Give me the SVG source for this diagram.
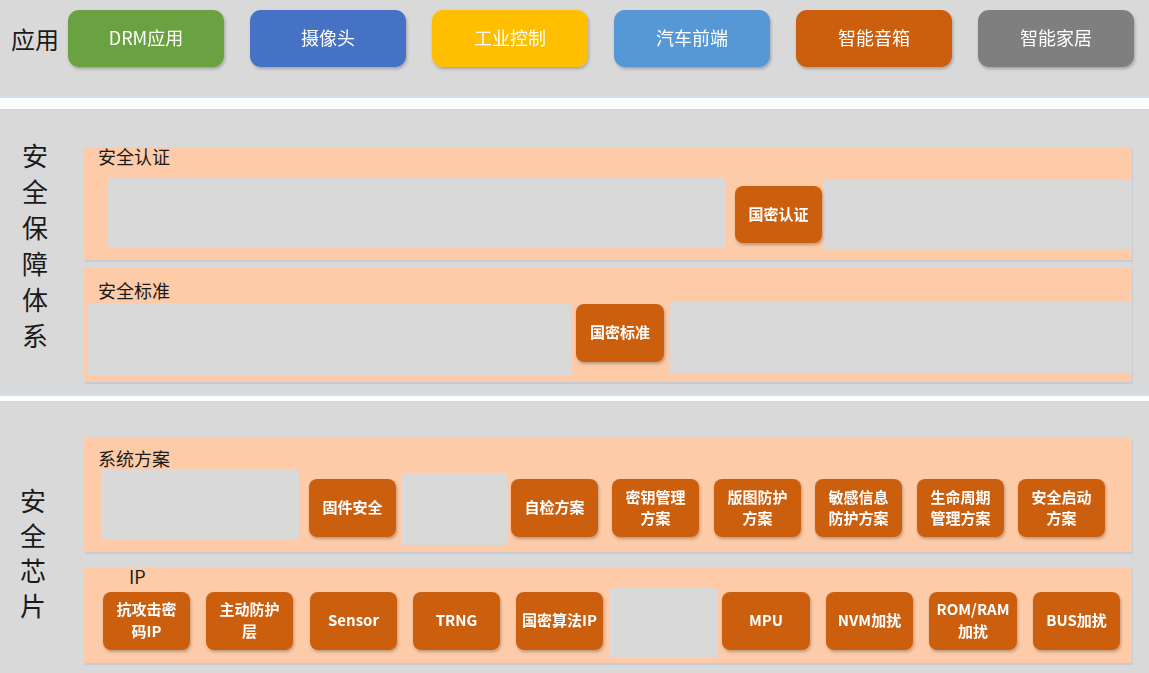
<svg xmlns="http://www.w3.org/2000/svg" width="1149" height="673" viewBox="0 0 1149 673">
<defs>
<style>
.band{fill:#d9d9d9}
.sep{fill:#d3deec}
.panel{fill:#fdcba8}
.pshadow{fill:#c6ccd6}
.hole{fill:#d9d9d9}
.box{fill:#cc5f10}
.bshadow{fill:#000;opacity:0.18}
.t{font-family:"Noto Sans CJK SC","Noto Sans",sans-serif}
.side{font-size:26px;fill:#1a1a1a;text-anchor:middle}
.title{font-size:18px;fill:#1a1a1a}
.app{font-size:18px;fill:#fff;text-anchor:middle}
.lbl{font-size:15px;fill:#fff;font-weight:bold;text-anchor:middle}
</style>
<filter id="sh" x="-10%" y="-10%" width="130%" height="140%">
<feDropShadow dx="1" dy="2" stdDeviation="1.5" flood-color="#000" flood-opacity="0.25"/>
</filter>
</defs>
<rect width="1149" height="673" fill="#ffffff"/>
<!-- bands -->
<rect class="band" x="0" y="0" width="1149" height="96"/>
<rect class="sep" x="0" y="96" width="1149" height="2"/>
<rect class="band" x="0" y="109" width="1149" height="285"/>
<rect class="sep" x="0" y="394" width="1149" height="2"/>
<rect class="band" x="0" y="401" width="1149" height="272"/>

<!-- Application layer -->
<g id="app-label"><text class="t" x="35" y="49" font-size="24" fill="#1a1a1a" text-anchor="middle">应用</text></g>
<g id="app-drm" filter="url(#sh)"><rect x="68" y="10" width="156" height="57" rx="11" fill="#6ba243"/><text class="t app" x="146" y="45">DRM应用</text></g>
<g id="app-camera" filter="url(#sh)"><rect x="250" y="10" width="156" height="57" rx="11" fill="#4472c4"/><text class="t app" x="328" y="45">摄像头</text></g>
<g id="app-industry" filter="url(#sh)"><rect x="432" y="10" width="156" height="57" rx="11" fill="#ffbf00"/><text class="t app" x="510" y="45">工业控制</text></g>
<g id="app-car" filter="url(#sh)"><rect x="614" y="10" width="156" height="57" rx="11" fill="#5697d6"/><text class="t app" x="692" y="45">汽车前端</text></g>
<g id="app-speaker" filter="url(#sh)"><rect x="796" y="10" width="156" height="57" rx="11" fill="#cc5f0c"/><text class="t app" x="874" y="45">智能音箱</text></g>
<g id="app-home" filter="url(#sh)"><rect x="978" y="10" width="156" height="57" rx="11" fill="#7f7f7f"/><text class="t app" x="1056" y="45">智能家居</text></g>

<!-- Security assurance system -->
<g id="sec-system-label">
<text class="t side" x="35" y="166">安</text>
<text class="t side" x="35" y="202">全</text>
<text class="t side" x="35" y="238">保</text>
<text class="t side" x="35" y="274">障</text>
<text class="t side" x="35" y="310">体</text>
<text class="t side" x="35" y="346">系</text>
</g>
<g id="panel-cert">
<rect class="pshadow" x="85" y="149" width="1048" height="113"/>
<rect class="panel" x="84" y="147" width="1048" height="113"/>
<text class="t title" x="98" y="164">安全认证</text>
<rect class="hole" x="108" y="178" width="617" height="70"/>
<rect class="hole" x="823" y="180" width="309" height="70"/>
</g>
<g id="node-gm-cert" filter="url(#sh)"><rect class="box" x="735" y="186" width="87" height="57" rx="8"/><text class="t lbl" x="778.5" y="219.5">国密认证</text></g>
<g id="panel-std">
<rect class="pshadow" x="85" y="270" width="1048" height="114"/>
<rect class="panel" x="84" y="268" width="1048" height="114"/>
<text class="t title" x="98" y="298">安全标准</text>
<rect class="hole" x="88" y="303" width="483" height="72"/>
<rect class="hole" x="670" y="302" width="462" height="71"/>
</g>
<g id="node-gm-std" filter="url(#sh)"><rect class="box" x="576" y="304" width="88" height="58" rx="8"/><text class="t lbl" x="620" y="338">国密标准</text></g>

<!-- Security chip -->
<g id="sec-chip-label">
<text class="t side" x="33" y="511">安</text>
<text class="t side" x="33" y="546">全</text>
<text class="t side" x="33" y="581">芯</text>
<text class="t side" x="33" y="616">片</text>
</g>
<g id="panel-solution">
<rect class="pshadow" x="85" y="440" width="1048" height="114"/>
<rect class="panel" x="84" y="438" width="1048" height="114"/>
<text class="t title" x="98" y="466">系统方案</text>
<rect class="hole" x="101" y="469" width="198" height="71"/>
<rect class="hole" x="401" y="473" width="107" height="72"/>
</g>
<g id="node-fw" filter="url(#sh)"><rect class="box" x="309" y="479" width="87" height="58" rx="8"/><text class="t lbl" x="352.5" y="513">固件安全</text></g>
<g id="node-selftest" filter="url(#sh)"><rect class="box" x="511" y="479" width="87" height="58" rx="8"/><text class="t lbl" x="554.5" y="513">自检方案</text></g>
<g id="node-key" filter="url(#sh)"><rect class="box" x="612" y="479" width="87" height="58" rx="8"/><text class="t lbl" x="655.5" y="503">密钥管理</text><text class="t lbl" x="655.5" y="524">方案</text></g>
<g id="node-layout" filter="url(#sh)"><rect class="box" x="714" y="479" width="87" height="58" rx="8"/><text class="t lbl" x="757.5" y="503">版图防护</text><text class="t lbl" x="757.5" y="524">方案</text></g>
<g id="node-sensitive" filter="url(#sh)"><rect class="box" x="815" y="479" width="87" height="58" rx="8"/><text class="t lbl" x="858.5" y="503">敏感信息</text><text class="t lbl" x="858.5" y="524">防护方案</text></g>
<g id="node-lifecycle" filter="url(#sh)"><rect class="box" x="917" y="479" width="87" height="58" rx="8"/><text class="t lbl" x="960.5" y="503">生命周期</text><text class="t lbl" x="960.5" y="524">管理方案</text></g>
<g id="node-boot" filter="url(#sh)"><rect class="box" x="1018" y="479" width="87" height="58" rx="8"/><text class="t lbl" x="1061.5" y="503">安全启动</text><text class="t lbl" x="1061.5" y="524">方案</text></g>

<g id="panel-ip">
<rect class="pshadow" x="85" y="569" width="1048" height="96"/>
<rect class="panel" x="84" y="567" width="1048" height="96"/>
<text class="t title" x="129" y="584" font-size="17">IP</text>
<rect class="hole" x="609" y="588" width="108" height="70"/>
</g>
<g id="node-anti" filter="url(#sh)"><rect class="box" x="103" y="592" width="87" height="58" rx="8"/><text class="t lbl" x="146.5" y="615">抗攻击密</text><text class="t lbl" x="146.5" y="637">码IP</text></g>
<g id="node-shield" filter="url(#sh)"><rect class="box" x="206" y="592" width="87" height="58" rx="8"/><text class="t lbl" x="249.5" y="615">主动防护</text><text class="t lbl" x="249.5" y="637">层</text></g>
<g id="node-sensor" filter="url(#sh)"><rect class="box" x="310" y="592" width="87" height="58" rx="8"/><text class="t lbl" x="353.5" y="626">Sensor</text></g>
<g id="node-trng" filter="url(#sh)"><rect class="box" x="413" y="592" width="87" height="58" rx="8"/><text class="t lbl" x="456.5" y="626">TRNG</text></g>
<g id="node-gmalg" filter="url(#sh)"><rect class="box" x="516" y="592" width="87" height="58" rx="8"/><text class="t lbl" x="559.5" y="626">国密算法IP</text></g>
<g id="node-mpu" filter="url(#sh)"><rect class="box" x="722" y="592" width="88" height="58" rx="8"/><text class="t lbl" x="766" y="626">MPU</text></g>
<g id="node-nvm" filter="url(#sh)"><rect class="box" x="826" y="592" width="87" height="58" rx="8"/><text class="t lbl" x="869.5" y="626">NVM加扰</text></g>
<g id="node-romram" filter="url(#sh)"><rect class="box" x="929" y="592" width="88" height="58" rx="8"/><text class="t lbl" x="973" y="615">ROM/RAM</text><text class="t lbl" x="973" y="637">加扰</text></g>
<g id="node-bus" filter="url(#sh)"><rect class="box" x="1033" y="592" width="87" height="58" rx="8"/><text class="t lbl" x="1076.5" y="626">BUS加扰</text></g>

<g id="connectors"></g>
</svg>
